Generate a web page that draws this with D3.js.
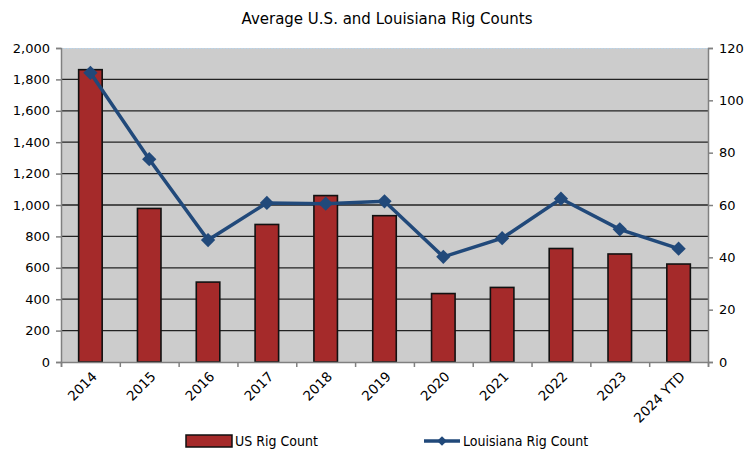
<!DOCTYPE html>
<html>
<head>
<meta charset="utf-8">
<script src="https://cdn.jsdelivr.net/npm/d3@7"></script>
<style>
  body { margin: 0; background: #fff; }
  svg { display: block; font-family: "DejaVu Sans", sans-serif; }
</style>
</head>
<body>
<svg id="chart" width="748" height="453"></svg>
<script>
// Chart data
const years = ['2014', '2015', '2016', '2017', '2018', '2019', '2020', '2021', '2022', '2023', '2024 YTD'];
const usRigs = [1862, 978, 509, 876, 1060, 932, 436, 475, 723, 688, 624];
const laRigs = [110.5, 77.5, 46.6, 60.8, 60.5, 61.4, 40.2, 47.3, 62.4, 50.7, 43.3];
const leftTicks = [0, 200, 400, 600, 800, 1000, 1200, 1400, 1600, 1800, 2000];
const rightTicks = [0, 20, 40, 60, 80, 100, 120];

const svg = d3.select('#chart');
const margin = { top: 48, right: 40, bottom: 91, left: 61 };
const width = 748, height = 453;
const innerW = width - margin.left - margin.right;
const innerH = height - margin.top - margin.bottom;

const g = svg.append('g').attr('transform', `translate(${margin.left},${margin.top})`);

// Scales
const x = d3.scaleBand().domain(years).range([0, innerW]).paddingInner(0.6).paddingOuter(0.3);
const xEdge = d3.scaleLinear().domain([0, years.length]).range([0, innerW]);
const yL = d3.scaleLinear().domain([0, 2000]).range([innerH, 0]);
const yR = d3.scaleLinear().domain([0, 120]).range([innerH, 0]);

// Plot background
g.append('rect').attr('width', innerW).attr('height', innerH).attr('fill', '#cccccc');

// Gridlines
g.selectAll('.grid').data(leftTicks.filter(d => d > 0 && d < 2000)).join('line')
  .attr('x1', 0).attr('x2', innerW)
  .attr('y1', d => yL(d)).attr('y2', d => yL(d))
  .attr('stroke', '#222').attr('stroke-width', 1.3);
g.append('line').attr('x1', 0).attr('x2', innerW).attr('y1', 0.5).attr('y2', 0.5)
  .attr('stroke', '#bcd3e6').attr('stroke-width', 1).attr('stroke-dasharray', '2,1');

// Bars
g.selectAll('.bar').data(years).join('rect')
  .attr('x', d => x(d))
  .attr('y', (d, i) => yL(usRigs[i]))
  .attr('width', x.bandwidth())
  .attr('height', (d, i) => innerH - yL(usRigs[i]))
  .attr('fill', '#a52a2a')
  .attr('stroke', '#111').attr('stroke-width', 1.6);

// Axes
const axisColor = '#808080';
const leftAxis = g.append('g').call(d3.axisLeft(yL).tickValues(leftTicks).tickSize(5).tickPadding(6).tickFormat(d3.format(',')));
const rightAxis = g.append('g').attr('transform', `translate(${innerW},0)`)
  .call(d3.axisRight(yR).tickValues(rightTicks).tickSize(5).tickPadding(6));
const bottomAxis = g.append('g').attr('transform', `translate(0,${innerH})`)
  .call(d3.axisBottom(xEdge).tickValues(d3.range(years.length + 1)).tickSize(5).tickFormat(''));
[leftAxis, rightAxis, bottomAxis].forEach(a => {
  a.select('.domain').attr('stroke', axisColor).attr('stroke-width', 1.5);
  a.selectAll('.tick line').attr('stroke', axisColor).attr('stroke-width', 1.5);
  a.selectAll('text').attr('font-size', 13).attr('fill', '#000').attr('font-family', '"DejaVu Sans", sans-serif');
});

// Rotated category labels
g.selectAll('.xlabel').data(years).join('text')
  .attr('transform', d => `translate(${x(d) + x.bandwidth() / 2 + 4},${innerH + 12}) rotate(-45)`)
  .attr('text-anchor', 'end')
  .attr('font-size', 13.5)
  .attr('dy', '0.35em')
  .text(d => d);

// Louisiana line
const line = d3.line()
  .x((d, i) => x(years[i]) + x.bandwidth() / 2)
  .y(d => yR(d));
g.append('path').datum(laRigs)
  .attr('d', line)
  .attr('fill', 'none')
  .attr('stroke', '#21497a').attr('stroke-width', 3.5);
g.selectAll('.pt').data(laRigs).join('path')
  .attr('transform', (d, i) => `translate(${x(years[i]) + x.bandwidth() / 2},${yR(d)})`)
  .attr('d', d3.symbol(d3.symbolDiamond2, 130))
  .attr('fill', '#21497a');

// Title
svg.append('text')
  .attr('x', 387).attr('y', 24)
  .attr('text-anchor', 'middle')
  .attr('font-size', 15)
  .text('Average U.S. and Louisiana Rig Counts');

// Legend
const leg = svg.append('g').attr('transform', 'translate(0,441)');
leg.append('rect').attr('x', 186).attr('y', -6).attr('width', 46).attr('height', 12)
  .attr('fill', '#a52a2a').attr('stroke', '#111').attr('stroke-width', 1.5);
leg.append('text').attr('x', 235).attr('y', 5).attr('font-size', 14)
  .attr('font-family', '"Liberation Sans Narrow", "DejaVu Sans Condensed", sans-serif')
  .text('US Rig Count');
leg.append('line').attr('x1', 424).attr('x2', 460).attr('y1', 0).attr('y2', 0)
  .attr('stroke', '#21497a').attr('stroke-width', 3.5);
leg.append('path').attr('transform', 'translate(442,0)')
  .attr('d', d3.symbol(d3.symbolDiamond2, 60)).attr('fill', '#21497a');
leg.append('text').attr('x', 463).attr('y', 5).attr('font-size', 14)
  .attr('font-family', '"Liberation Sans Narrow", "DejaVu Sans Condensed", sans-serif')
  .text('Louisiana Rig Count');
</script>
</body>
</html>
